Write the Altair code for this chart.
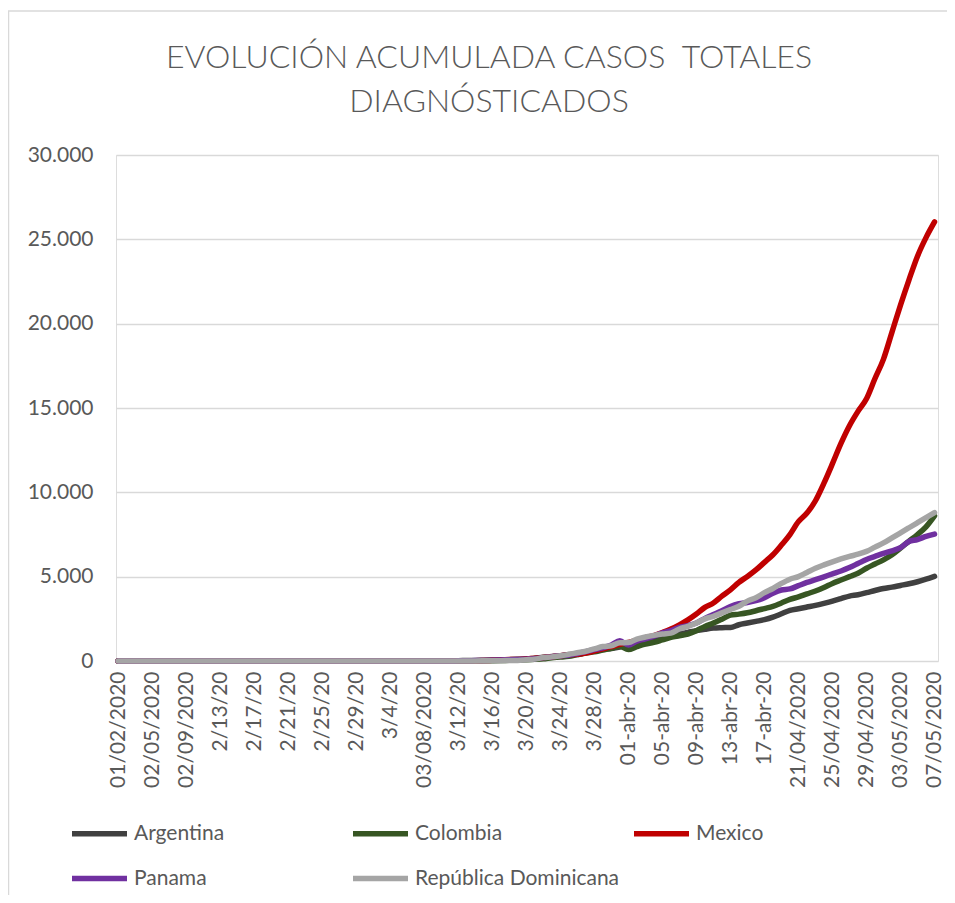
import altair as alt
import pandas as pd

tick_labels = ["01/02/2020", "02/05/2020", "02/09/2020", "2/13/20", "2/17/20", "2/21/20",
               "2/25/20", "2/29/20", "3/4/20", "03/08/2020", "3/12/20", "3/16/20", "3/20/20",
               "3/24/20", "3/28/20", "01-abr-20", "05-abr-20", "09-abr-20", "13-abr-20",
               "17-abr-20", "21/04/2020", "25/04/2020", "29/04/2020", "03/05/2020", "07/05/2020"]

countries = ["Argentina", "Colombia", "Mexico", "Panama", "República Dominicana"]
colors = ["#404040", "#375623", "#C00000", "#7030A0", "#A5A5A5"]

argentina = [0, 0, 0, 0, 0, 0, 0, 0, 0, 0, 0, 0, 0, 0, 0, 0, 0, 0, 0, 0, 0, 0, 0, 0, 0, 0, 0, 0, 0, 0, 0, 0,
             1, 1, 2, 8, 9, 12, 17, 19, 21, 31,
             34, 45, 56, 65, 79, 97, 128, 158, 225, 266,
             301, 387, 387, 502, 589, 690, 745, 820, 966, 1054,
             1133, 1265, 1400, 1500, 1600, 1700, 1800, 1880, 1950, 1975,
             1990, 2150, 2250, 2350, 2450, 2600, 2800, 3000, 3100, 3200,
             3300, 3420, 3550, 3700, 3850, 3930, 4050, 4180, 4300, 4380,
             4480, 4580, 4700, 4850, 5020]

colombia = [0, 0, 0, 0, 0, 0, 0, 0, 0, 0, 0, 0, 0, 0, 0, 0, 0, 0, 0, 0, 0, 0, 0, 0, 0, 0, 0, 0, 0, 0,
            0, 0, 0, 0, 0, 0, 0,
            1, 1, 1, 3, 3, 9, 13, 16, 24, 45,
            57, 75, 102, 128, 196, 231, 277, 378, 470, 540,
            650, 750, 880, 680, 850, 1000, 1100, 1250, 1400, 1500,
            1600, 1800, 2050, 2250, 2480, 2720, 2780, 2860, 2980, 3110,
            3240, 3440, 3650, 3800, 3980, 4150, 4360, 4600, 4800, 5000,
            5200, 5500, 5750, 6000, 6300, 6700, 7100, 7500, 7950, 8600]

mexico = [0, 0, 0, 0, 0, 0, 0, 0, 0, 0, 0, 0, 0, 0, 0, 0, 0, 0, 0, 0, 0, 0, 0, 0, 0, 0, 0, 0,
          1, 4, 5, 5, 5, 5, 5, 6, 6, 7,
          7, 7, 8, 12, 16, 26, 41, 53, 82, 93,
          118, 164, 203, 251, 316, 367, 405, 475, 585, 717,
          848, 993, 1094, 1215, 1378, 1510, 1688, 1890, 2143, 2439,
          2785, 3181, 3441, 3844, 4219, 4661, 5014, 5399, 5847, 6297,
          6875, 7497, 8261, 8772, 9501, 10544, 11700, 12900, 13950, 14800,
          15550, 16750, 17900, 19500, 21100, 22600, 24000, 25100, 26030]

panama = [0, 0, 0, 0, 0, 0, 0, 0, 0, 0, 0, 0, 0, 0, 0, 0, 0, 0, 0, 0, 0, 0, 0, 0, 0, 0, 0, 0, 0, 0,
          0, 0, 0, 0, 0, 0, 0, 0, 0,
          1, 8, 14, 27, 36, 43, 55, 69, 86, 109,
          137, 200, 245, 313, 345, 443, 558, 674, 786, 950,
          1200, 950, 1181, 1317, 1475, 1673, 1801, 1988, 2100, 2249,
          2528, 2752, 2974, 3234, 3400, 3472, 3574, 3751, 4016, 4210,
          4273, 4467, 4658, 4821, 4992, 5166, 5338, 5538, 5779, 6021,
          6200, 6378, 6532, 6720, 7090, 7197, 7387, 7523]

rep_dominicana = [0, 0, 0, 0, 0, 0, 0, 0, 0, 0, 0, 0, 0, 0, 0, 0, 0, 0, 0, 0, 0, 0, 0, 0, 0, 0, 0, 0, 0,
                  1, 1, 1, 1, 1, 1, 2, 5, 5, 5,
                  5, 5, 5, 5, 11, 21, 21, 34, 34, 72,
                  112, 202, 245, 312, 392, 488, 581, 719, 859, 901,
                  1080, 1090, 1300, 1420, 1520, 1600, 1650, 1900, 2050, 2250,
                  2500, 2650, 2850, 3050, 3250, 3550, 3750, 4050, 4300, 4600,
                  4850, 5000, 5250, 5500, 5700, 5880, 6050, 6200, 6330, 6500,
                  6750, 7000, 7300, 7600, 7900, 8200, 8500, 8800]

y_ticks = [0, 5000, 10000, 15000, 20000, 25000, 30000]

series = [argentina, colombia, mexico, panama, rep_dominicana]
rows = []
for name, vals in zip(countries, series):
    for i, v in enumerate(vals):
        rows.append({"dia": i, "pais": name, "casos": v})
df = pd.DataFrame(rows)

label_js = "[" + ",".join("'" + t + "'" for t in tick_labels) + "]"
FONT = "Lato"
GREY_TXT = "#595959"

lines = alt.Chart(df).mark_line(
    strokeWidth=5.5, strokeCap="round", strokeJoin="round", interpolate="monotone"
).encode(
    x=alt.X("dia:Q",
            scale=alt.Scale(domain=[-0.24, 96.41], nice=False, zero=False),
            axis=alt.Axis(values=list(range(0, 97, 4)),
                          labelExpr=label_js + "[round(datum.value/4)]",
                          labelAngle=270, labelFontSize=21, labelFont=FONT,
                          labelColor=GREY_TXT, labelPadding=10, ticks=False,
                          grid=False, domain=False, labelOverlap=False,
                          labelFlush=False, labelBound=False, title=None)),
    y=alt.Y("casos:Q",
            scale=alt.Scale(domain=[0, 30000], nice=False),
            axis=alt.Axis(values=y_ticks,
                          labelExpr="replace(format(datum.value, ','), ',', '.')",
                          labelFontSize=21, labelFont=FONT, labelColor=GREY_TXT,
                          labelPadding=23, ticks=False, domain=False,
                          grid=True, gridColor="#d9d9d9", gridWidth=1.5,
                          title=None)),
    color=alt.Color("pais:N",
                    scale=alt.Scale(domain=countries, range=colors),
                    legend=alt.Legend(orient="none", legendX=-47, legendY=648,
                                      direction="horizontal", columns=3,
                                      gridAlign="all", columnPadding=3,
                                      rowPadding=3, symbolType="stroke",
                                      symbolSize=3025, symbolStrokeWidth=5.5,
                                      labelFontSize=21, labelFont=FONT,
                                      labelColor=GREY_TXT, labelOffset=4,
                                      labelLimit=300, padding=0, title=None)),
)

frame_df = pd.DataFrame({"k": [0]})
frame_v = alt.Chart(frame_df).mark_rule(color="#d9d9d9", strokeWidth=1.5).encode(
    x=alt.value(-107.5), y=alt.value(-144), y2=alt.value(748))
frame_h = alt.Chart(frame_df).mark_rule(color="#d9d9d9", strokeWidth=1.5).encode(
    x=alt.value(-108), x2=alt.value(839), y=alt.value(-144))

chart = alt.layer(frame_v, frame_h, lines).properties(
    width=822, height=506,
    autosize=alt.AutoSizeParams(type="none"),
    padding={"left": 108, "top": 147, "right": 9, "bottom": 234},
    title=alt.TitleParams(text=["EVOLUCIÓN ACUMULADA CASOS\u00a0 TOTALES", "DIAGNÓSTICADOS"],
                          fontSize=32, font=FONT, fontWeight=300, color=GREY_TXT,
                          anchor="middle", frame="group", baseline="top",
                          dx=-38, dy=109, offset=0, lineHeight=44),
).configure_view(stroke=None).configure(background="white")

chart.save("out.html", embed_options={"renderer": "svg", "actions": False})
